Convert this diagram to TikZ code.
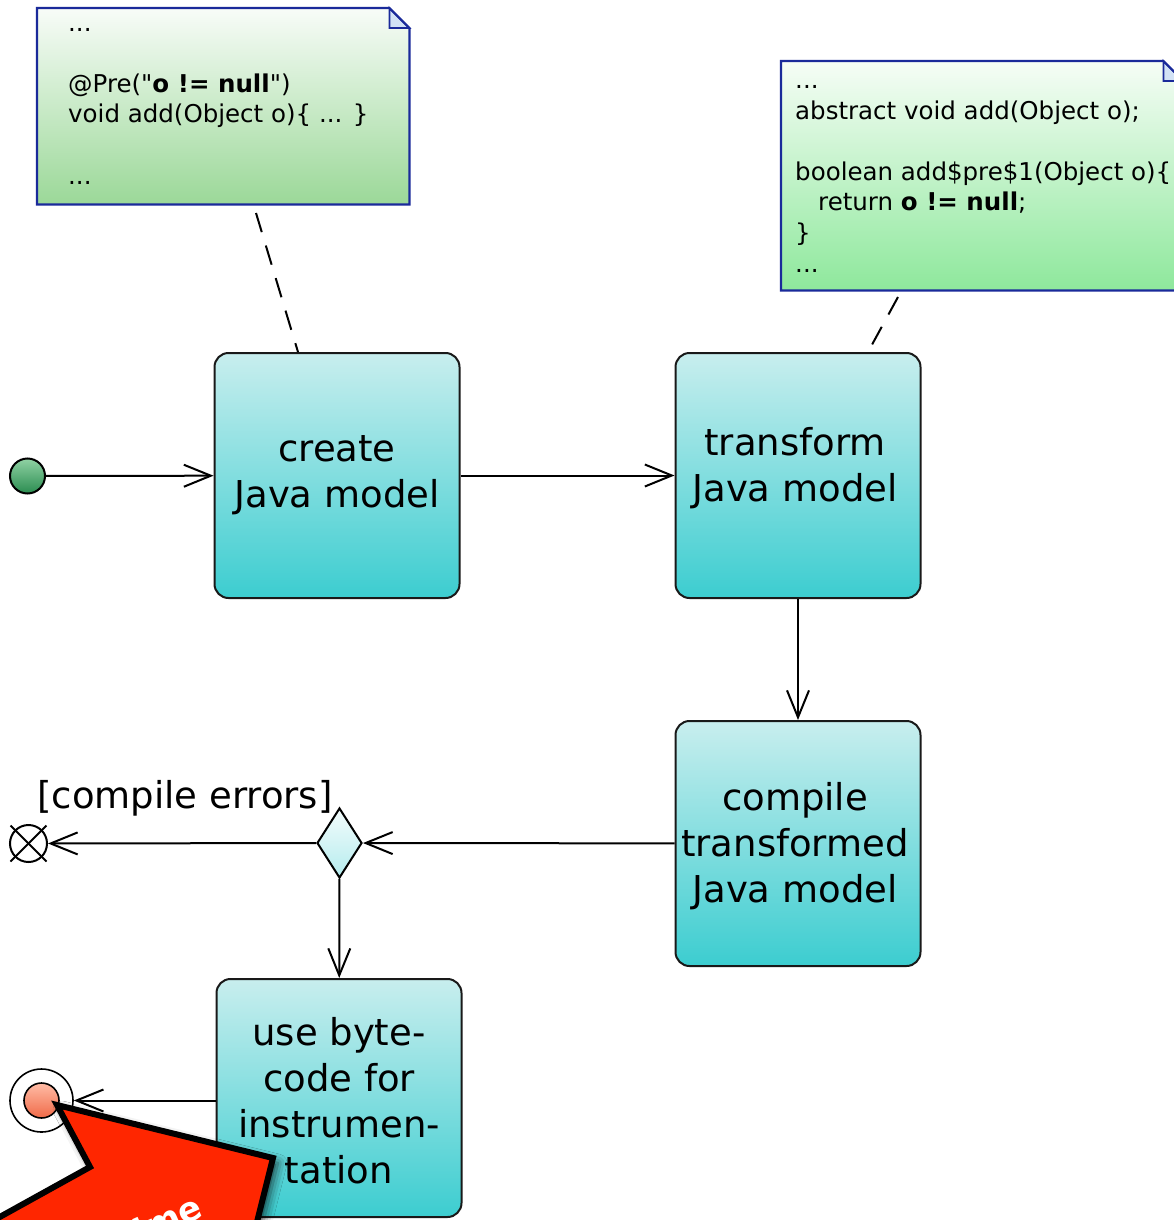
\documentclass[tikz,border=0pt]{standalone}
\usepackage{fontspec}
\setmainfont{DejaVu Sans}
\usetikzlibrary{arrows.meta,shapes.geometric,shadows.blur,calc}
\definecolor{actTop}{HTML}{C8EEEE}
\definecolor{actBot}{HTML}{3CCDD0}
\definecolor{noteBorder}{HTML}{1A2A9A}
\definecolor{noteTopA}{HTML}{F8FCF8}
\definecolor{noteBotA}{HTML}{9BD898}
\definecolor{noteTopB}{HTML}{F6FDF6}
\definecolor{noteBotB}{HTML}{8EE89C}
\definecolor{foldFill}{HTML}{D2E2F5}
\definecolor{initTop}{HTML}{90D2A4}
\definecolor{initBot}{HTML}{2A8C50}
\definecolor{finTop}{HTML}{FFBCA6}
\definecolor{finBot}{HTML}{F06A48}
\definecolor{decTop}{HTML}{F4FCFC}
\definecolor{decBot}{HTML}{B4ECEE}
\definecolor{hlRed}{HTML}{FF2600}
\tikzset{
  activity/.style={rectangle, rounded corners=14pt, draw=black!90, line width=2pt,
    top color=actTop, bottom color=actBot, minimum width=245pt, minimum height=245pt,
    align=center, font=\fontsize{37}{46}\selectfont, inner sep=0pt},
  acttext/.style={align=center, font=\fontsize{37}{46}\selectfont, inner sep=0pt},
  flow/.style={line width=2pt, -{Straight Barb[length=27pt,width=22pt]}},
  notelink/.style={line width=2pt, dash pattern=on 20pt off 14pt},
  noteframe/.style={draw=noteBorder, line width=2.2pt, line join=miter},
  notetext/.style={align=left, inner sep=0pt, font=\fontsize{24.5}{30.6}\selectfont},
  ctrl/.style={draw=black, line width=2pt, inner sep=0pt},
}
\begin{document}
\begin{tikzpicture}[x=1pt,y=-1pt]
\useasboundingbox (0,0) rectangle (1174,1220);
\clip (0,0) rectangle (1174,1220);

% note 1
\node[minimum width=372pt, minimum height=196pt, anchor=north west, inner sep=0pt] (n1) at (37,8) {};
\shade[top color=noteTopA, bottom color=noteBotA] (n1.north west) -- ([xshift=-20pt]n1.north east) -- ([yshift=-20pt]n1.north east) -- (n1.south east) -- (n1.south west) -- cycle;
\filldraw[fill=foldFill, draw=noteBorder, line width=1.8pt] ([xshift=-20pt]n1.north east) -- ([xshift=-20pt,yshift=-20pt]n1.north east) -- ([yshift=-20pt]n1.north east) -- cycle;
\draw[noteframe] (n1.north west) -- ([xshift=-20pt]n1.north east) -- ([yshift=-20pt]n1.north east) -- (n1.south east) -- (n1.south west) -- cycle;
\node[notetext, anchor=base west] (t1) at (68,184) {...\\ \mbox{}\\ @Pre(\textquotedbl\textbf{o != null}\textquotedbl)\\ void add(Object o)\{ ... \}\\ \mbox{}\\ ...};

% note 2
\node[minimum width=402pt, minimum height=229pt, anchor=north west, inner sep=0pt] (n2) at (781,61) {};
\shade[top color=noteTopB, bottom color=noteBotB] (n2.north west) -- ([xshift=-20pt]n2.north east) -- ([yshift=-20pt]n2.north east) -- (n2.south east) -- (n2.south west) -- cycle;
\filldraw[fill=foldFill, draw=noteBorder, line width=1.8pt] ([xshift=-20pt]n2.north east) -- ([xshift=-20pt,yshift=-20pt]n2.north east) -- ([yshift=-20pt]n2.north east) -- cycle;
\draw[noteframe] (n2.north west) -- ([xshift=-20pt]n2.north east) -- ([yshift=-20pt]n2.north east) -- (n2.south east) -- (n2.south west) -- cycle;
\node[notetext, anchor=base west] (t2) at (795,272) {...\\ abstract void add(Object o);\\ \mbox{}\\ boolean add\$pre\$1(Object o)\{\\ \hspace*{23pt}return \textbf{o != null};\\ \}\\ ...};

% activities
\node[activity] (create) at (337,475.5) {create\\Java model};
\node[activity] (transform) at (798,475.5) {};
\node[acttext] (transformtxt) at ($(transform.center)+(-3,-7)$) {transform\\Java model};
\node[activity] (compile) at (798,843.5) {};
\node[acttext] (compiletxt) at ($(compile.center)+(-3,3)$) {compile\\transformed\\Java model};
\node[activity, minimum height=238pt] (use) at (339,1098) {};
\node[acttext] (usetxt) at ($(use.center)+(0,3)$) {use byte-\\code for\\instrumen-\\tation};

% control nodes
\node[ctrl, circle, minimum size=35pt, top color=initTop, bottom color=initBot] (init) at (27.5,476) {};
\node[ctrl, diamond, minimum width=45pt, minimum height=70pt, top color=decTop, bottom color=decBot] (dec) at (339.5,843) {};
\node[ctrl, circle, minimum size=37pt, fill=white] (ff) at (28.5,843.5) {};
\draw[line width=2pt] ([shift={(-18pt,18pt)}]ff.center) -- ([shift={(18pt,-18pt)}]ff.center);
\draw[line width=2pt] ([shift={(-18pt,-18pt)}]ff.center) -- ([shift={(18pt,18pt)}]ff.center);
\node[ctrl, circle, line width=1.6pt, minimum size=63pt, fill=white] (fin) at (41.5,1100.5) {};
\node[ctrl, circle, line width=1.6pt, minimum size=35pt, top color=finTop, bottom color=finBot] (finin) at (fin.center) {};

\node[font=\fontsize{37}{46}\selectfont, inner sep=0pt] (lbl) at (185,798) {[compile errors]};

% flows
\draw[flow] (init) -- (create);
\draw[flow] (create) -- (transform);
\draw[flow] (transform) -- (compile);
\draw[flow] (compile) -- (dec);
\draw[flow] (dec) -- (ff);
\draw[flow] (dec) -- (use);
\draw[flow] (use.west |- fin) -- (fin);

% note links
\coordinate (d1) at (256,213);
\draw[notelink] (d1) -- ([xshift=-39pt]create.north);
\coordinate (d2) at (898,297);
\draw[notelink] (d2) -- ([xshift=70pt]transform.north);

% highlight arrow
\filldraw[fill=hlRed, draw=black, line width=6pt, line join=miter,
  blur shadow={shadow xshift=5pt, shadow yshift=-5pt, shadow blur radius=9pt, shadow opacity=70}]
  (57,1105) -- (273,1158) -- (240,1290) -- (-40,1290) -- (-40,1239) -- (90,1167) -- cycle;
\node[rotate=24, anchor=base east, text=white, inner sep=0pt, font=\bfseries\fontsize{34}{34}\selectfont] (rt) at (205,1216) {Runtime};
\end{tikzpicture}
\end{document}
